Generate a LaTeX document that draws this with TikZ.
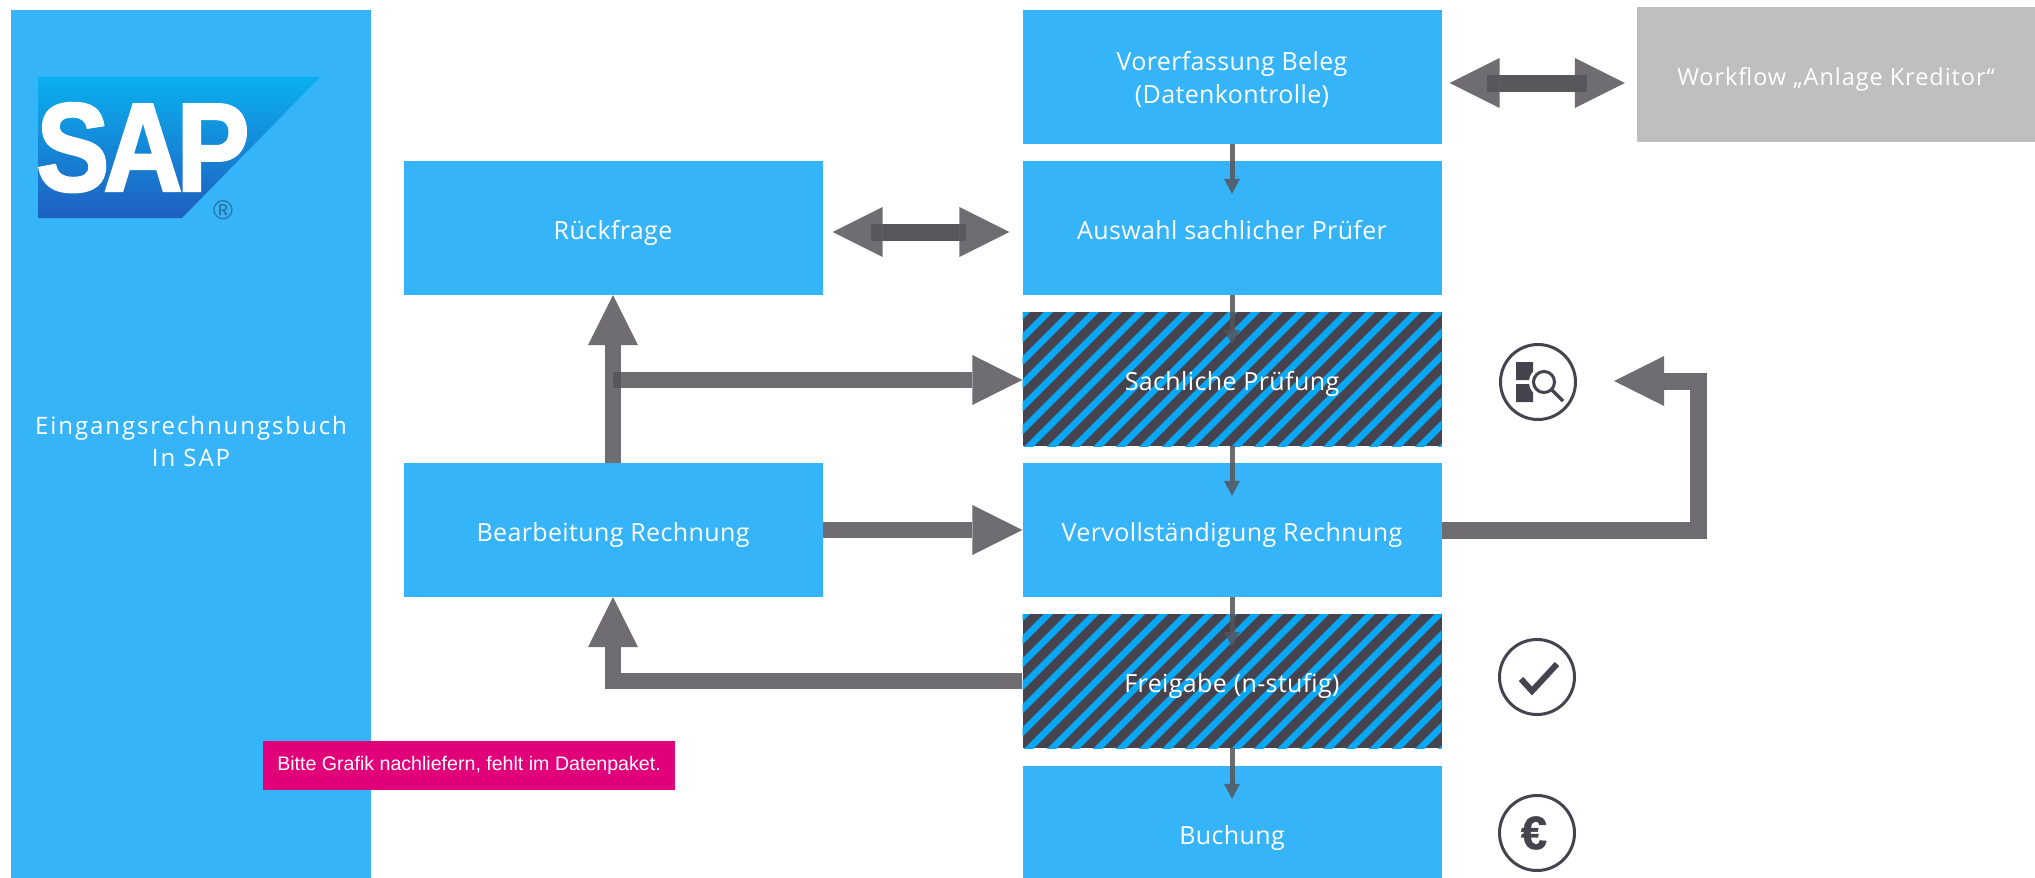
\documentclass[tikz,border=0pt]{standalone}
\usepackage{fontspec}
\usetikzlibrary{arrows.meta,calc}
\setmainfont{Open Sans}
\newfontfamily\pinkfont{Liberation Sans}
\newfontfamily\logofont{Liberation Sans Bold}[FakeBold=2.5,LetterSpace=-5]
\newfontfamily\eurofont{Liberation Sans Bold}[FakeBold=1]
\newcommand{\lowline}[1]{\raisebox{-4pt}[\height][\depth]{#1}}
\definecolor{boxblue}{HTML}{36B4F9}
\definecolor{stripeblue}{HTML}{08A8F6}
\definecolor{stripedark}{HTML}{45444E}
\definecolor{flowgrey}{HTML}{565459}
\definecolor{boxgrey}{HTML}{BFBFBF}
\definecolor{notepink}{HTML}{E2007A}
\definecolor{saptop}{HTML}{0AB0EE}
\definecolor{sapbottom}{HTML}{1F5FBF}
\definecolor{sapmarkc}{HTML}{2B6C9A}
\tikzset{
	stepbox/.style={fill=boxblue, inner sep=0pt, text=white, font=\addfontfeature{LetterSpace=1.5}\fontsize{25}{32.5}\selectfont, align=center, minimum width=419pt, minimum height=134pt, execute at begin node={\rule[-7pt]{0pt}{37pt}}},
	hatchbox/.style={stepbox, fill=stripedark, path picture={
		\foreach \i in {-7,...,18}
			\draw[stripeblue, line width=6.5pt] ($(path picture bounding box.south west)+(\i*23-3,10)$) -- ++(170,-170);
	}},
	thinflow/.style={draw=flowgrey, opacity=.85, line width=5pt, shorten >=-33pt, -{Triangle[width=16pt,length=15pt,line width=0pt]}},
	thickflow/.style={draw=flowgrey, opacity=.85, line width=16pt, -{Triangle[width=50pt,length=50pt,line width=0pt]}},
	iconring/.style={circle, draw=stripedark, line width=3pt, minimum size=75pt, inner sep=0pt, text=stripedark},
}
\begin{document}
\begin{tikzpicture}[x=1pt, y=-1pt, line join=miter]
	\useasboundingbox (0,0) rectangle (2035,878);
	\fill[white] (0,0) rectangle (2035,878);
	% left bar with logo
	\node[fill=boxblue, inner sep=0pt, minimum width=360pt, minimum height=868pt, text=white, align=center, font=\addfontfeature{LetterSpace=8}\fontsize{24}{32.5}\selectfont] (buch) at (191,444) {Eingangsrechnungsbuch\\In SAP\rule[-5pt]{0pt}{0pt}};
	\shade[top color=saptop, bottom color=sapbottom] (38,77) -- (320,77) -- (182,218) -- (38,218) -- cycle;
	\node[text=white, inner sep=0pt, text depth=0pt, xscale=.87, font=\logofont\fontsize{125}{125}\selectfont] (saplogo) at (143,147) {SAP};
	\node[text=sapmarkc, inner sep=0pt, font=\pinkfont\fontsize{27}{27}\selectfont] (sapmark) at (223,210) {®};
	% boxes
	\node[stepbox, execute at begin node={\rule{0pt}{28pt}}] (vor) at (1232,77) {\lowline{Vorerfassung Beleg}\\\lowline{(Datenkontrolle)}};
	\node[stepbox] (auswahl) at (1232,228) {Auswahl sachlicher Prüfer};
	\node[hatchbox] (sach) at (1232,379) {Sachliche Prüfung};
	\node[stepbox] (voll) at (1232,530) {Vervollständigung Rechnung};
	\node[hatchbox] (frei) at (1232,681) {Freigabe (n-stufig)};
	\node[stepbox] (buchung) at (1232,833) {Buchung};
	\node[stepbox] (rueck) at (613,228) {Rückfrage};
	\node[stepbox] (bearb) at (613,530) {Bearbeitung Rechnung};
	\node[stepbox, fill=boxgrey, minimum width=398pt, minimum height=135pt, font=\addfontfeature{LetterSpace=4}\fontsize{23.5}{30}\selectfont] (workflow) at (1836,74) {Workflow „Anlage Kreditor“};
	% icons
	\node[iconring] (iconsearch) at (1538,382) {};
	\fill[stripedark] (1516,362) rectangle (1533,380) (1516,384) rectangle (1533,402);
	\fill[white] (1544,382) circle (15pt);
	\draw[stripedark, line width=3pt] (1544,382) circle (10.5pt);
	\draw[stripedark, line width=3.5pt] (1552,390) -- (1563,401);
	\node[iconring] (iconcheck) at (1537,677) {};
	\draw[stripedark, line width=6pt] (1521,679) -- (1532,691) -- (1557,664);
	\node[iconring, font=\eurofont\fontsize{47}{47}\selectfont] (iconeuro) at (1537,833) {€\kern6pt};
	\node[fill=notepink, text=white, inner sep=0pt, minimum width=412pt, minimum height=49pt, font=\pinkfont\fontsize{19.6}{19.6}\selectfont] (hinweis) at (469,765) {Bitte Grafik nachliefern, fehlt im Datenpaket.};
	% connectors
	\foreach \a/\b in {vor/auswahl,auswahl/sach,sach/voll,voll/frei,frei/buchung}
		{\draw[thinflow] (\a.south) -- (\b.north);}
	\draw[thickflow] (bearb.east) -- (voll.west);
	\draw[thickflow] (bearb.north) -- (rueck.south);
	\coordinate (branch) at (613,380);
	\draw[thickflow] (branch) -- (sach.west |- branch);
	\draw[thickflow] (frei.west) -- (frei.west -| bearb.south) -- (bearb.south);
	\coordinate (bendr) at (1698,381);
	\draw[thickflow, line width=17pt, shorten >=37pt] (voll.east) -- (voll.east -| bendr) -- (bendr) -- (iconsearch.east |- bendr);
	% both ways, two arrows on top of each other
	\coordinate (rueckrow) at ($(rueck.east)+(0,4)$);
	\draw[thickflow, line width=17pt, shorten <=48pt, shorten >=13pt] (rueckrow) -- (rueckrow -| auswahl.west);
	\draw[thickflow, line width=17pt, shorten <=56pt, shorten >=10pt] (rueckrow -| auswahl.west) -- (rueckrow);
	\coordinate (vorrow) at ($(vor.east)+(0,6)$);
	\draw[thickflow, line width=17pt, shorten <=45pt, shorten >=12pt] (vorrow) -- (vorrow -| workflow.west);
	\draw[thickflow, line width=17pt, shorten <=50pt, shorten >=8pt] (vorrow -| workflow.west) -- (vorrow);
\end{tikzpicture}
\end{document}
